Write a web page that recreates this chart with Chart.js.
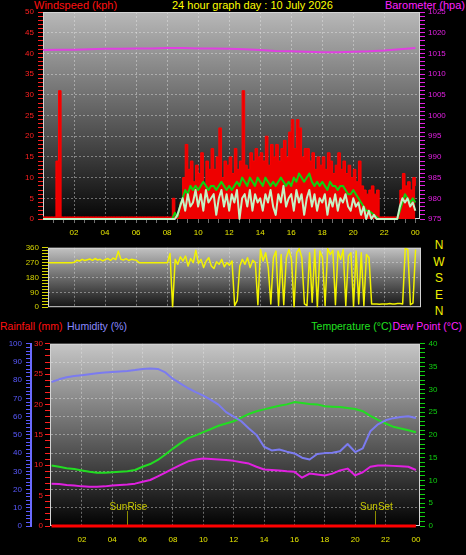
<!DOCTYPE html>
<html><head><meta charset="utf-8">
<script src="https://cdn.jsdelivr.net/npm/chart.js@4.4.1/dist/chart.umd.min.js"></script>
<style>
html,body{margin:0;padding:0;background:#000;width:466px;height:555px;overflow:hidden;}
body{position:relative;font-family:"Liberation Sans",Arial,sans-serif;}
canvas{position:absolute;left:0;}
.t{position:absolute;font-size:11px;line-height:13px;white-space:nowrap;}
.b{font-size:10.5px;}
.d{position:absolute;left:432px;width:14px;text-align:center;font-size:12px;line-height:14px;color:#f0f000;}
</style></head><body>
<div class="t" style="left:34px;top:-1px;color:#ff1010">Windspeed (kph)</div>
<div class="t" style="left:172px;top:-1px;color:#ffff00">24 hour graph day : 10 July 2026</div>
<div class="t" style="right:1px;top:-1px;color:#ff20ff">Barometer (hpa)</div>
<div class="d" style="top:238px">N</div>
<div class="d" style="top:255px">W</div>
<div class="d" style="top:271px">S</div>
<div class="d" style="top:288px">E</div>
<div class="d" style="top:304px">N</div>
<div class="t b" style="left:0;top:320px;color:#ff1010">Rainfall (mm)</div>
<div class="t b" style="left:67px;top:320px;color:#8a8aff">Humidity (%)</div>
<div class="t b" style="right:74px;top:320px;color:#20e020">Temperature (°C)</div>
<div class="t b" style="right:4px;top:320px;color:#ff20ff">Dew Point (°C)</div>
<canvas id="c1" width="466" height="240" style="top:0"></canvas>
<canvas id="c2" width="466" height="75" style="top:240px"></canvas>
<canvas id="c3" width="466" height="220" style="top:335px"></canvas>
<script>
// ---------- data (10-minute steps from 00:00 for wind, hourly baro, half-hourly climate) ----------
const hourTicks  = [2,4,6,8,10,12,14,16,18,20,22,24];
const hourLabels = ['02','04','06','08','10','12','14','16','18','20','22','00'];

const gustKph = [
  0.5,0.5,0.5,0.5,0.5,14,
  31,0.5,0.5,0.5,0.5,0.5,
  0.5,0.5,0.5,0.5,0.5,0.5,
  0.5,0.5,0.5,0.5,0.5,0.5,
  0.5,0.5,0.5,0.5,0.5,0.5,
  0.5,0.5,0.5,0.5,0.5,0.5,
  0.5,0.5,0.5,0.5,0.5,0.5,
  0.5,0.5,0.5,0.5,0.5,0.5,
  0.5,0.5,5,0.5,1,4,
  10,18,12,14,9,13,
  11,16,8,14,12,17,
  12,15,22,10,14,13,
  15,11,17,12,14,31,
  13,12,16,14,17,15,
  16,14,20,13,18,15,
  18,14,17,19,15,21,
  24,17,24,22,15,17,
  17,14,16,12,15,13,
  15,12,16,14,11,13,
  16,12,14,11,13,10,
  12,9,14,8,7,6,
  7,8,6,7,0.5,0.5,
  0.5,0.5,0.5,0.5,0.5,0.5,
  7,11,8,9,7,10,
  8
];
const avgKph = [
  0,0,0,0,0,0, 0,0,0,0,0,0, 0,0,0,0,0,0, 0,0,0,0,0,0,
  0,0,0,0,0,0, 0,0,0,0,0,0, 0,0,0,0,0,0, 0,0,0,0,0,0,
  0,0,0,1.5,0.5,3,
  5,7,6,8,7,8,
  7,8,9,8,7,8,
  8,7,8,9,8,7,
  8,7,8,9,8,10,
  9,8,10,9,8,10,
  9,8,10,9,8,9,
  8,9,10,9,8,9,
  8,10,9,11,10,9,
  10,11,9,8,9,8,
  9,8,7,9,8,8,
  7,8,8,7,6,6,
  7,6,5,4,3,2,
  2,1.5,1,0.5,0,0,
  0,0,0,0,0,0,
  2,4,6,5,4,5,
  4
];
const speedKph = [
  0,0,0,0,0,0, 0,0,0,0,0,0, 0,0,0,0,0,0, 0,0,0,0,0,0,
  0,0,0,0,0,0, 0,0,0,0,0,0, 0,0,0,0,0,0, 0,0,0,0,0,0,
  0,0,0,0,1,3,
  5,2,6,3,4,7,
  3,6,2,7,4,5,
  6,1,5,7,3,6,
  2,6,4,7,0,5,
  6,3,7,2,6,4,
  5,2,6,4,7,3,
  1,6,4,8,3,5,
  6,2,7,4,6,1,
  5,7,3,6,2,5,
  4,6,1,5,3,6,
  2,5,4,6,3,2,
  5,3,4,1,3,0,
  2,0,1,0,0,0,
  0,0,0,0,0,0,
  3,5,4,5,3,4,
  2
];
const baroHpa = [1015.8,1015.9,1015.9,1016.0,1016.1,1016.1,1016.2,1016.2,1016.3,1016.3,1016.2,1016.2,
  1016.1,1016.0,1015.8,1015.6,1015.5,1015.4,1015.3,1015.3,1015.4,1015.5,1015.7,1016.0,1016.3];

const windDirDeg = [
  270,270,270,270,270,270,
  270,270,270,270,270,270,
  272,285,280,290,283,288,
  292,284,295,286,290,281,
  289,295,284,298,288,340,
  290,286,294,283,290,287,
  285,270,270,270,270,270,
  270,270,270,270,270,270,
  270,325,0,290,260,305,
  280,310,250,295,270,345,
  265,290,240,280,300,250,
  235,275,260,290,245,270,
  255,280,10,40,250,290,
  260,300,240,285,270,15,
  350,280,330,240,20,300,
  340,10,320,15,300,350,
  290,0,330,355,300,20,
  10,330,30,350,0,340,
  300,10,355,320,345,15,
  340,290,350,10,310,330,
  5,340,20,330,10,320,
  300,20,20,20,18,20,
  20,20,22,20,20,22,
  22,20,355,350,15,25,
  350
];

const humidityPct = [79,80.5,81.6,82.3,82.8,83.3,83.8,84.2,84.5,84.8,85.1,85.6,86.2,86.4,86.2,84.3,
  80.7,78.2,75.6,73.5,71.6,69.2,66.6,62.5,60.0,57.5,53.5,50.0,43.5,41.5,42.0,40.8,
  39.8,37.5,36.5,39.5,40.0,40.2,41.0,45.0,40.6,42.6,52.0,55.8,58.0,59.2,59.8,60.2,59.3];
const temperatureC = [13.3,13.0,12.7,12.5,12.2,11.9,11.7,11.7,11.8,11.9,12.0,12.3,13.0,13.6,14.5,15.7,
  17.0,18.2,19.3,19.9,20.6,21.3,22.0,22.5,23.0,23.8,24.6,25.2,25.6,26.0,26.4,26.7,
  27.2,27.0,26.8,26.7,26.3,26.2,26.1,25.9,25.7,25.2,24.2,23.3,22.5,21.8,21.4,21.0,20.6];
const dewPointC = [9.3,9.2,9.0,8.9,8.7,8.6,8.6,8.7,8.9,9.0,9.1,9.3,9.7,10.1,10.9,11.7,
  12.6,13.4,14.2,14.6,14.8,14.7,14.6,14.5,14.3,14.0,13.7,13.0,12.4,12.3,12.2,12.0,
  11.9,10.6,11.5,11.3,11.1,11.5,12.2,12.6,11.1,11.8,13.0,13.3,13.3,13.2,13.1,13.0,12.3];
const rainfallMm = [0, 0];
const rainfallHours = [0, 24];

const sunTimes = [4.95, 21.3];
const sunNames = ['SunRise', 'SunSet'];

// ---------- helpers ----------
const FONT = '"Liberation Sans", Arial, sans-serif';
const NONE = 'rgba(0,0,0,0)';
const GRID = 'rgba(235,235,235,0.42)';
Chart.defaults.font.family = FONT;

function series(vals, start, step) { return vals.map((v, i) => ({ x: start + i * step, y: v })); }
function tickList(min, max, step) {
  const out = []; const n = Math.round((max - min) / step);
  for (let k = 0; k <= n; k++) out.push({ value: +(min + k * step).toFixed(6) });
  return out;
}
const isMajor = (v, m) => Math.abs(v / m - Math.round(v / m)) < 1e-6;
function hourLabel(v) { const i = hourTicks.indexOf(v); return i < 0 ? '' : hourLabels[i]; }

function vAxis(o) {
  return {
    type: 'linear', position: o.pos, weight: o.weight || 0, min: o.min, max: o.max,
    afterBuildTicks: s => { s.ticks = tickList(o.min, o.max, o.minor); },
    afterFit: s => { s.width = o.width; },
    ticks: { autoSkip: false, color: o.color, padding: o.pad, font: { family: FONT, size: 8 },
      callback: v => isMajor(v, o.major) ? String(v) : '' },
    grid: { drawOnChartArea: !!o.grid, drawTicks: true, tickLength: o.tl, tickColor: o.tickColor || o.color, lineWidth: 1,
      color: c => (o.grid && c.tick && isMajor(c.tick.value, o.gridStep || o.major) && c.tick.value !== o.min && c.tick.value !== o.max) ? o.grid : NONE },
    border: { display: !!o.border, color: o.border || NONE, width: 2, dash: [2, 2] }
  };
}
function panel(topCol, botCol) {
  return {
    id: 'panel',
    beforeDraw(chart) {
      const { ctx, chartArea: a } = chart;
      const g = ctx.createLinearGradient(0, a.top, 0, a.bottom);
      g.addColorStop(0, topCol); g.addColorStop(1, botCol);
      ctx.save(); ctx.fillStyle = g; ctx.fillRect(a.left, a.top, a.right - a.left, a.bottom - a.top); ctx.restore();
    },
    beforeDatasetsDraw(chart) {
      const { ctx, chartArea: a } = chart;
      ctx.save(); ctx.strokeStyle = '#d4d4d4'; ctx.lineWidth = 1;
      ctx.strokeRect(a.left + 0.5, a.top + 0.5, a.right - a.left - 1, a.bottom - a.top - 1);
      ctx.restore();
    }
  };
}
const sunPlugin = {
  id: 'sun',
  beforeDatasetsDraw(chart) {
    const { ctx, chartArea: a, scales: { x } } = chart;
    ctx.save();
    sunTimes.forEach((t, i) => {
      const px = Math.round(x.getPixelForValue(t)) + 0.5;
      ctx.strokeStyle = '#8c8c00'; ctx.lineWidth = 1;
      ctx.beginPath(); ctx.moveTo(px, a.bottom - 15); ctx.lineTo(px, a.bottom); ctx.stroke();
      ctx.fillStyle = '#c8c800'; ctx.font = '10px ' + FONT; ctx.textAlign = 'center'; ctx.textBaseline = 'alphabetic';
      ctx.fillText(sunNames[i], px + 1, a.bottom - 16);
    });
    ctx.restore();
  }
};
const common = {
  responsive: false, animation: false, devicePixelRatio: 1, events: [],
  plugins: { legend: { display: false }, tooltip: { enabled: false } },
  elements: { point: { radius: 0 }, line: { tension: 0, borderJoinStyle: 'round' } }
};

// ---------- top: wind speed + barometer ----------
new Chart(document.getElementById('c1'), {
  type: 'line',
  data: { datasets: [
    { data: series(speedKph, 0, 1/6), borderColor: '#c4f2c4', borderWidth: 2, yAxisID: 'y', clip: false },
    { data: series(avgKph, 0, 1/6), borderColor: '#10d010', borderWidth: 2, yAxisID: 'y', clip: false },
    { data: series(gustKph, 0, 1/6), borderColor: '#ff0000', backgroundColor: '#ee0000', borderWidth: 1, stepped: true, fill: 'origin', yAxisID: 'y', clip: false },
    { data: series(baroHpa, 0, 1), borderColor: '#e040e0', borderWidth: 2, yAxisID: 'y2', clip: false }
  ]},
  options: Object.assign({}, common, {
    layout: { padding: { top: 12, left: 0, right: 0, bottom: 0 } },
    scales: {
      x: {
        type: 'linear', min: 0, max: 24.3,
        afterBuildTicks: s => { s.ticks = tickList(2/3, 24, 2/3); },
        afterFit: s => { s.height = 21; },
        ticks: { autoSkip: false, maxRotation: 0, color: '#e6e600', padding: 5, font: { family: FONT, size: 8 }, callback: v => hourLabel(v) },
        grid: { tickLength: 4, tickColor: '#707070', color: c => (c.tick && hourTicks.indexOf(c.tick.value) >= 0 && c.tick.value < 24) ? GRID : NONE },
        border: { display: false, dash: [2, 2] }
      },
      y: vAxis({ pos: 'left', min: 0, max: 50, minor: 1, major: 5, width: 43, tl: 5, pad: 4, color: '#ff2020', grid: GRID }),
      y2: vAxis({ pos: 'right', min: 975, max: 1025, minor: 1, major: 5, width: 46, tl: 5, pad: 3, color: '#e020e0' })
    }
  }),
  plugins: [panel('#b8b8b8', '#060606')]
});

// ---------- middle: wind direction ----------
new Chart(document.getElementById('c2'), {
  type: 'line',
  data: { datasets: [
    { data: series(windDirDeg, 0, 1/6), borderColor: '#f2f200', borderWidth: 1.5, yAxisID: 'y' }
  ]},
  options: Object.assign({}, common, {
    layout: { padding: { top: 6, left: 0, right: 45, bottom: 0 } },
    scales: {
      x: {
        type: 'linear', min: 0.3, max: 24.35,
        afterBuildTicks: s => { s.ticks = hourTicks.map(v => ({ value: v })); },
        afterFit: s => { s.height = 5; },
        ticks: { display: false },
        grid: { drawTicks: false, color: c => (c.tick && c.tick.value < 24) ? GRID : NONE },
        border: { display: false, dash: [2, 2] }
      },
      y: vAxis({ pos: 'left', min: 0, max: 360, minor: 18, major: 90, width: 48, tl: 6, pad: 3, color: '#d4d400', grid: GRID })
    }
  }),
  plugins: [panel('#c2c2c2', '#141414')]
});

// ---------- bottom: humidity, rainfall, temperature, dew point ----------
new Chart(document.getElementById('c3'), {
  type: 'line',
  data: { datasets: [
    { data: rainfallHours.map((h, i) => ({ x: h, y: rainfallMm[i] })), borderColor: '#ff0000', borderWidth: 3, yAxisID: 'yR', clip: false },
    { data: series(humidityPct, 0, 0.5), borderColor: '#7b7bf0', borderWidth: 2, yAxisID: 'yH', clip: false },
    { data: series(temperatureC, 0, 0.5), borderColor: '#22dd22', borderWidth: 2, yAxisID: 'yT', clip: false },
    { data: series(dewPointC, 0, 0.5), borderColor: '#e020e0', borderWidth: 2, yAxisID: 'yT', clip: false }
  ]},
  options: Object.assign({}, common, {
    layout: { padding: { top: 8, left: 0, right: 0, bottom: 0 } },
    scales: {
      x: {
        type: 'linear', min: -0.1, max: 24.27,
        afterBuildTicks: s => { s.ticks = hourTicks.map(v => ({ value: v })); },
        afterFit: s => { s.height = 29; },
        ticks: { autoSkip: false, maxRotation: 0, color: '#e6e600', padding: 5, font: { family: FONT, size: 8 }, callback: v => hourLabel(v) },
        grid: { tickLength: 4, tickColor: NONE, color: c => (c.tick && c.tick.value < 24) ? GRID : NONE },
        border: { display: false, dash: [2, 2] }
      },
      yH: vAxis({ pos: 'left', weight: 1, min: 0, max: 100, minor: 2, major: 10, width: 31, tl: 5, pad: 4, color: '#5a5aff', grid: GRID, border: '#6a6aff' }),
      yR: vAxis({ pos: 'left', weight: 0, min: 0, max: 30, minor: 1, major: 5, width: 19, tl: 5, pad: 2, color: '#ff2020' }),
      yT: vAxis({ pos: 'right', min: 0, max: 40, minor: 1, major: 5, width: 46, tl: 5, pad: 3.5, color: '#10d010' })
    }
  }),
  plugins: [panel('#c6c6c6', '#020202'), sunPlugin]
});
</script>
</body></html>
